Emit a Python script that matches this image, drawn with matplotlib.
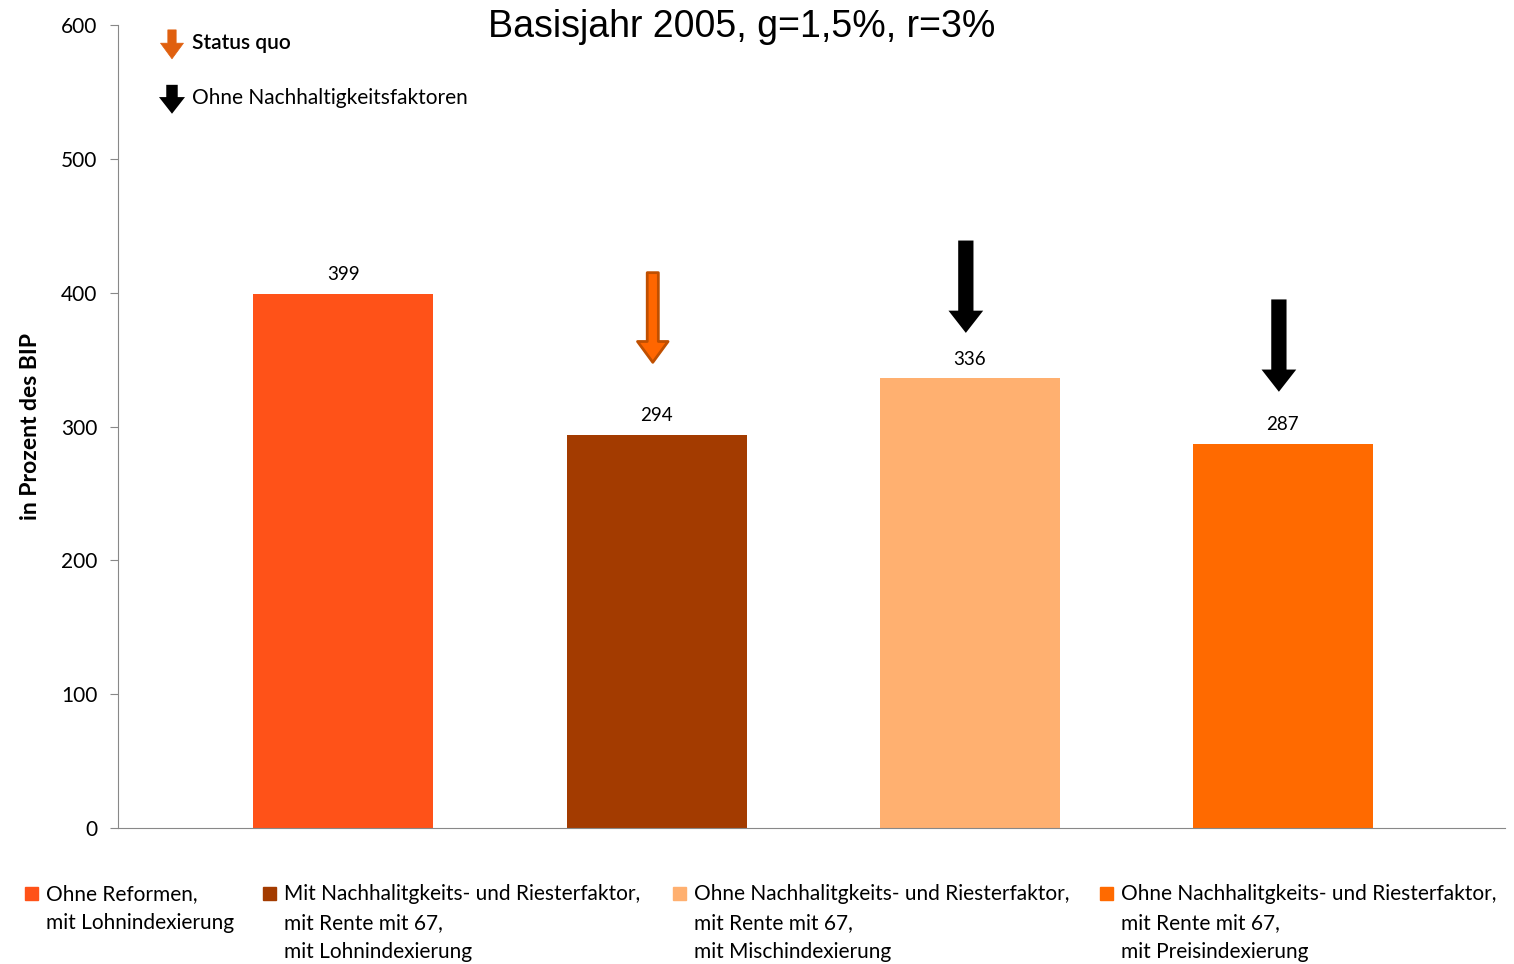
import matplotlib.pyplot as plt
from matplotlib.patches import Rectangle

plt.rcParams['font.family'] = ['Lato', 'DejaVu Sans']

# scenario values, in percent of GDP
scenarios = [
    "Ohne Reformen,\nmit Lohnindexierung",
    "Mit Nachhalitgkeits- und Riesterfaktor,\nmit Rente mit 67,\nmit Lohnindexierung",
    "Ohne Nachhalitgkeits- und Riesterfaktor,\nmit Rente mit 67,\nmit Mischindexierung",
    "Ohne Nachhalitgkeits- und Riesterfaktor,\nmit Rente mit 67,\nmit Preisindexierung",
]
values = [399, 294, 336, 287]
colors = ['#FF5218', '#A33B00', '#FFB070', '#FF6A00']

# marker arrows above bars: (bar index, top, tip, style)
markers = [(1, 415, 348, 'status'), (2, 439, 370, 'ohne'), (3, 395, 326, 'ohne')]

fig = plt.figure(figsize=(15.14, 9.64), dpi=100)
ax = fig.add_axes([0.078, 0.141, 0.916, 0.833])

x = range(len(values))
ax.bar(x, values, width=0.575, color=colors, zorder=2)
for i, v in zip(x, values):
    ax.text(i, v + 8, str(v), ha='center', va='bottom', fontsize=13.5)

ax.set_xlim(-0.72, 3.71)
ax.set_ylim(0, 600)
ax.set_yticks(range(0, 601, 100))
ax.set_xticks([])
for s in ['top', 'right']:
    ax.spines[s].set_visible(False)
for s in ['left', 'bottom']:
    ax.spines[s].set_color('#888888')
ax.tick_params(axis='y', labelsize=15, color='#888888', length=6, pad=9)
ax.set_ylabel('in Prozent des BIP', fontsize=16.5, fontweight='bold', labelpad=14)

arrow_styles = {
    'status': dict(width=8, headwidth=22, headlength=15, facecolor='#FF6600',
                   edgecolor='#C04F00', linewidth=2),
    'ohne': dict(width=11, headwidth=25, headlength=16, facecolor='black',
                 edgecolor='black', linewidth=0),
}
for i, top, tip, style in markers:
    ax.annotate('', xy=(i - 0.012, tip), xytext=(i - 0.012, top),
                arrowprops=dict(shrink=0, **arrow_styles[style]))

# key for the arrows
keys = [('Status quo', 'status', 0.955), ('Ohne Nachhaltigkeitsfaktoren', 'ohne', 0.898)]
for label, style, yk in keys:
    st = dict(arrow_styles[style])
    st.update(width=st['width'] * 0.75, headwidth=st['headwidth'] * 0.75,
              headlength=st['headlength'] * 0.75)
    if style == 'status':
        st.update(facecolor='#E0600F', edgecolor='#E0600F', linewidth=0.5)
    ax.annotate('', xy=(0.1136, yk - 0.016), xytext=(0.1136, yk + 0.014),
                xycoords='figure fraction', textcoords='figure fraction',
                arrowprops=dict(shrink=0, **st))
    fig.text(0.1268, yk, label, fontsize=15, va='center', ha='left',
             fontweight='semibold' if style == 'status' else 'normal')

fig.text(0.49, 0.972, 'Basisjahr 2005, g=1,5%, r=3%', family='Liberation Sans',
         fontsize=27, ha='center', va='center')

# legend below the plot
leg_x = [0.0165, 0.1738, 0.4445, 0.7265]
for lx, label, c in zip(leg_x, scenarios, colors):
    fig.patches.append(Rectangle((lx, 0.066), 0.0085, 0.0135, color=c,
                                 transform=fig.transFigure, figure=fig))
    fig.text(lx + 0.0140, 0.0825, label, fontsize=15, va='top', ha='left',
             linespacing=1.55)

fig.savefig('out.png', dpi=100)
